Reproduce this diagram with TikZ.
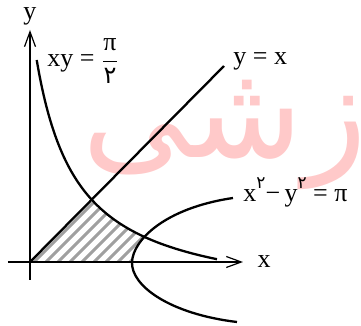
\documentclass[tikz,border=0pt]{standalone}
\usepackage{fontspec}
\setmainfont{Liberation Serif}
\newfontfamily\fa[Script=Arabic]{DejaVu Sans}
\usepackage{tikz}
\usetikzlibrary{arrows.meta,positioning,calc}
\TeXXeTstate=1
\definecolor{MarkRed}{HTML}{FFC9C9}
\definecolor{HatchGrey}{HTML}{A0A0A0}

\begin{document}
\begin{tikzpicture}[x=0.5pt,y=-0.5pt, every node/.style={font=\fontsize{13}{15}\selectfont},
  axis/.style={line width=0.6pt,-{Straight Barb[length=7.5pt,width=5.5pt]}},
  curve/.style={line width=1.15pt},
  hatch/.style={line width=1.5pt,HatchGrey},
  lbl/.style={inner sep=0pt}]
  \useasboundingbox (0,0) rectangle (361,326);
  % watermark
  \node[MarkRed,font=\fa\fontsize{66}{66}\selectfont,anchor=base east] (mark) at (374,158) {\beginR زشی\endR};
  \coordinate (O) at (30,262);
  % hatched region
  \begin{scope}
    \clip (O) -- (224,66) -- (224,262) -- cycle;
    \clip (O) -- plot[domain=6.7:187,samples=60] ({30+\x},{262-(10170/(\x+34.8)-43.06)}) -- (217,262) -- cycle;
    \clip (0,190) -- (233,198) .. controls (165,208) and (133,240) .. (132,262) -- (0,262) -- cycle;
    \foreach \s in {-170,-158,...,140}
      \draw[hatch] (\s,262) -- ++(130,-130);
  \end{scope}
  % axes
  \draw[axis] (30,280) -- (30,30) node[lbl,above=2pt] (ylab) {y};
  \draw[axis] (8,262) -- (243,262) node[lbl,right=7pt] (xlab) {x};
  % y = x
  \draw[curve] (O) -- (224,66) coordinate (B);
  \node[lbl,anchor=base west] (lyx) at (233,65) {y = x};
  % xy = pi/2
  \draw[curve] plot[domain=6.7:187,samples=80,smooth] ({30+\x},{262-(10170/(\x+34.8)-43.06)});
  \node[lbl,anchor=base west] (lxy) at (47,67) {xy = $\displaystyle\frac{\hbox{π}}{\hbox{\fa\fontsize{12}{12}\selectfont ۲}}$};
  % x^2 - y^2 = pi
  \draw[curve] (233,198) .. controls (165,208) and (133,240) .. (132,262)
    .. controls (131,286) and (170,314) .. (237,322);
  \node[lbl,anchor=base west] (lhyp) at (243,202) {x\raisebox{6.5pt}{\fa\fontsize{8.5}{8.5}\selectfont ۲}−\,y\raisebox{6.5pt}{\fa\fontsize{8.5}{8.5}\selectfont ۲} = π};
\end{tikzpicture}
\end{document}
